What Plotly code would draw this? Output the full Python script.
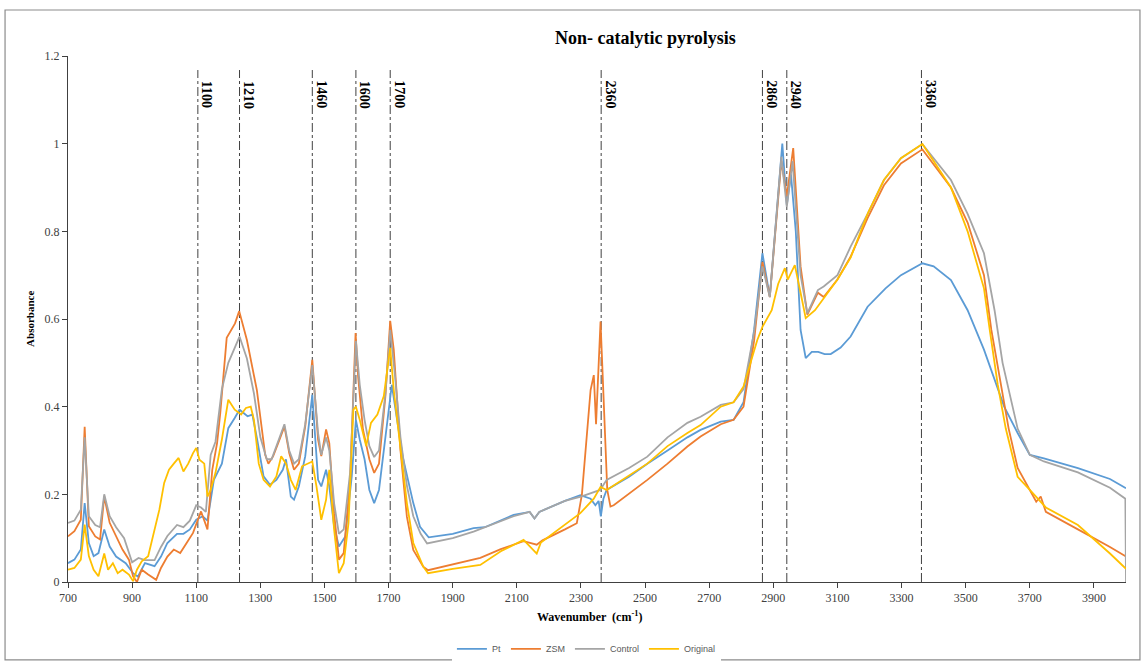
import plotly.graph_objects as go

# ---------------- data ----------------
pt_wn = [700,720,740,752,765,780,795,813,830,850,880,903,918,940,970,990,1010,1040,1060,1080,1100,1120,1135,1155,1180,1200,1220,1235,1260,1275,1290,1310,1330,1350,1370,1380,1395,1405,1420,1440,1462,1480,1490,1505,1515,1530,1545,1565,1585,1598,1610,1625,1640,1655,1670,1690,1710,1725,1744,1777,1798,1825,1900,1965,2000,2090,2140,2155,2170,2250,2298,2330,2345,2355,2362,2370,2380,2450,2507,2570,2632,2673,2736,2776,2807,2840,2866,2889,2928,2942,2955,2970,2985,3001,3020,3040,3060,3079,3110,3141,3194,3250,3298,3365,3400,3454,3506,3557,3600,3620,3662,3700,3744,3850,3950,4000]
pt_abs = [0.043,0.051,0.074,0.18,0.089,0.059,0.066,0.12,0.081,0.058,0.043,0.02,0.012,0.043,0.036,0.058,0.089,0.11,0.11,0.12,0.142,0.15,0.14,0.233,0.27,0.351,0.374,0.393,0.378,0.382,0.325,0.241,0.222,0.233,0.256,0.28,0.195,0.188,0.218,0.287,0.427,0.233,0.218,0.256,0.218,0.127,0.081,0.104,0.241,0.37,0.325,0.28,0.21,0.18,0.21,0.325,0.45,0.377,0.286,0.18,0.126,0.102,0.11,0.123,0.125,0.153,0.16,0.145,0.16,0.185,0.198,0.19,0.175,0.185,0.15,0.19,0.21,0.24,0.27,0.30,0.33,0.347,0.366,0.37,0.41,0.575,0.75,0.651,1.0,0.86,0.93,0.80,0.575,0.511,0.525,0.525,0.52,0.52,0.535,0.56,0.628,0.67,0.70,0.727,0.72,0.689,0.62,0.53,0.44,0.40,0.34,0.29,0.282,0.26,0.235,0.214]

zsm_wn = [700,720,740,752,765,785,800,813,830,850,870,890,903,915,930,950,975,990,1010,1030,1050,1070,1090,1105,1115,1135,1150,1165,1175,1195,1221,1234,1258,1289,1300,1315,1325,1340,1360,1375,1390,1405,1420,1440,1462,1480,1490,1505,1515,1530,1545,1560,1580,1597,1605,1620,1640,1655,1670,1690,1705,1716,1737,1757,1777,1808,1823,1900,1986,2050,2121,2162,2180,2250,2287,2303,2330,2340,2347,2361,2382,2392,2402,2507,2570,2632,2673,2736,2776,2807,2840,2866,2889,2925,2942,2962,2985,3006,3039,3057,3100,3141,3194,3245,3298,3365,3454,3506,3557,3580,3610,3634,3662,3700,3720,3734,3750,3850,3950,4000]
zsm_abs = [0.104,0.116,0.142,0.354,0.127,0.104,0.097,0.195,0.135,0.104,0.074,0.051,0.013,0.0,0.028,0.017,0.005,0.032,0.058,0.074,0.066,0.089,0.112,0.142,0.161,0.12,0.256,0.317,0.386,0.557,0.59,0.618,0.552,0.438,0.38,0.29,0.27,0.287,0.325,0.355,0.294,0.256,0.27,0.355,0.507,0.325,0.287,0.348,0.317,0.157,0.051,0.066,0.233,0.568,0.468,0.348,0.28,0.249,0.27,0.424,0.596,0.53,0.30,0.149,0.073,0.035,0.027,0.04,0.055,0.075,0.093,0.085,0.095,0.12,0.134,0.2,0.438,0.472,0.36,0.594,0.21,0.172,0.175,0.233,0.27,0.309,0.332,0.36,0.37,0.40,0.55,0.73,0.65,0.96,0.88,0.99,0.72,0.61,0.66,0.65,0.69,0.742,0.83,0.905,0.955,0.987,0.90,0.82,0.70,0.575,0.45,0.35,0.26,0.21,0.183,0.195,0.16,0.12,0.08,0.058]

ctl_wn = [700,720,740,752,765,785,800,813,830,850,875,900,920,940,970,990,1010,1040,1060,1080,1100,1115,1130,1145,1160,1180,1200,1235,1258,1280,1300,1320,1335,1360,1375,1390,1405,1420,1440,1462,1480,1490,1505,1515,1530,1545,1560,1580,1598,1610,1625,1640,1655,1670,1690,1705,1720,1737,1757,1777,1800,1820,1900,1965,2000,2090,2140,2155,2170,2250,2300,2340,2360,2380,2450,2507,2570,2632,2673,2736,2776,2807,2840,2866,2889,2925,2942,2960,2985,3006,3039,3057,3100,3141,3194,3245,3298,3365,3454,3506,3557,3590,3615,3640,3662,3700,3744,3850,3950,3998,4000]
ctl_abs = [0.135,0.14,0.165,0.33,0.15,0.13,0.125,0.20,0.15,0.125,0.10,0.045,0.055,0.05,0.05,0.08,0.105,0.13,0.125,0.14,0.175,0.17,0.16,0.29,0.32,0.44,0.50,0.56,0.51,0.43,0.33,0.28,0.28,0.33,0.36,0.30,0.27,0.28,0.36,0.495,0.34,0.29,0.33,0.30,0.18,0.11,0.12,0.25,0.55,0.45,0.37,0.31,0.285,0.30,0.43,0.575,0.47,0.33,0.22,0.15,0.11,0.088,0.10,0.115,0.125,0.15,0.16,0.145,0.16,0.185,0.195,0.205,0.21,0.233,0.26,0.286,0.33,0.363,0.377,0.404,0.41,0.44,0.57,0.72,0.65,0.97,0.856,0.96,0.70,0.613,0.666,0.674,0.70,0.765,0.84,0.917,0.967,0.999,0.917,0.84,0.75,0.62,0.50,0.42,0.35,0.29,0.275,0.25,0.215,0.19,0.0]

org_wn = [700,720,740,752,765,780,795,813,825,840,855,870,890,903,915,930,950,965,985,1000,1015,1030,1045,1060,1075,1090,1100,1110,1125,1135,1145,1160,1180,1200,1220,1240,1255,1270,1280,1295,1310,1330,1350,1365,1380,1395,1410,1430,1450,1462,1475,1490,1505,1515,1530,1545,1560,1575,1590,1598,1610,1630,1645,1665,1685,1705,1716,1737,1757,1777,1808,1823,1900,1986,2050,2121,2162,2175,2250,2298,2340,2361,2380,2402,2507,2570,2632,2673,2736,2776,2807,2850,2866,2895,2915,2936,2945,2967,2985,3001,3030,3060,3100,3141,3194,3245,3298,3365,3454,3506,3557,3575,3600,3625,3662,3700,3750,3850,3950,4000]
org_abs = [0.028,0.032,0.051,0.131,0.059,0.028,0.013,0.065,0.028,0.043,0.02,0.028,0.017,0.002,0.028,0.047,0.059,0.104,0.165,0.226,0.256,0.27,0.283,0.252,0.27,0.294,0.306,0.279,0.27,0.195,0.21,0.249,0.325,0.416,0.393,0.382,0.397,0.40,0.37,0.27,0.233,0.218,0.241,0.287,0.27,0.233,0.21,0.264,0.27,0.275,0.218,0.142,0.188,0.256,0.12,0.02,0.043,0.135,0.393,0.40,0.37,0.31,0.363,0.382,0.424,0.534,0.438,0.30,0.18,0.089,0.035,0.02,0.03,0.039,0.07,0.096,0.065,0.09,0.13,0.157,0.19,0.217,0.21,0.22,0.27,0.31,0.34,0.358,0.40,0.41,0.446,0.552,0.582,0.62,0.68,0.716,0.69,0.723,0.66,0.602,0.62,0.65,0.69,0.74,0.84,0.917,0.967,0.999,0.90,0.80,0.67,0.575,0.45,0.35,0.24,0.21,0.17,0.13,0.065,0.03]

series_names = ["Pt", "ZSM", "Control", "Original"]
series_colors = ["#5B9BD5", "#ED7D31", "#A5A5A5", "#FFC000"]

marker_pos = [1105, 1235, 1462, 1598, 1705, 2363, 2866, 2942, 3362]
marker_lbl = ["1100", "1210", "1460", "1600", "1700", "2360", "2860", "2940", "3360"]

x_ticks = list(range(700, 4000, 200))
y_ticks = [0, 0.2, 0.4, 0.6, 0.8, 1, 1.2]

# ---------------- figure ----------------
fig = go.Figure()
for wn, ab, nm, col in zip([pt_wn, zsm_wn, ctl_wn, org_wn],
                           [pt_abs, zsm_abs, ctl_abs, org_abs],
                           series_names, series_colors):
    fig.add_trace(go.Scatter(x=wn, y=ab, mode="lines", name=nm,
                             line=dict(color=col, width=1.8)))

serif = "Liberation Serif, Times New Roman, serif"
for pos, lbl in zip(marker_pos, marker_lbl):
    fig.add_shape(type="line", x0=pos, x1=pos, y0=0, y1=1.168, xref="x", yref="y",
                  line=dict(color="#404040", width=1, dash="dashdot"), layer="below")
    fig.add_annotation(x=pos, y=1.112, xref="x", yref="y", text="<b>" + lbl + "</b>",
                       showarrow=False, textangle=90, xanchor="center", yanchor="middle",
                       xshift=9, font=dict(family=serif, size=14, color="#000000"))

fig.add_annotation(x=0.546, y=1.034, xref="paper", yref="paper",
                   text="<b>Non- catalytic pyrolysis</b>", showarrow=False,
                   xanchor="center", yanchor="middle",
                   font=dict(family=serif, size=18, color="#000000"))
fig.add_annotation(x=-0.036, y=0.5, xref="paper", yref="paper",
                   text="<b>Absorbance</b>", showarrow=False, textangle=-90,
                   xanchor="center", yanchor="middle",
                   font=dict(family=serif, size=11, color="#000000"))
fig.add_annotation(x=0.493, y=-0.065, xref="paper", yref="paper",
                   text="<b>Wavenumber  (cm<sup>-1</sup>)</b>", showarrow=False,
                   xanchor="center", yanchor="middle",
                   font=dict(family=serif, size=12, color="#000000"))

# outer chart-area border
fig.add_shape(type="rect", xref="paper", yref="paper", x0=-0.0595, x1=1.0132,
              y0=-0.148, y1=1.0875, line=dict(color="#8c8c8c", width=1.2))

fig.update_layout(
    width=1143, height=662,
    margin=dict(l=68, r=17, t=56, b=80, autoexpand=False),
    paper_bgcolor="white", plot_bgcolor="white",
    showlegend=True,
    legend=dict(orientation="h", x=0.49, y=-0.127, xanchor="center", yanchor="middle",
                font=dict(family="Liberation Sans, Arial, sans-serif", size=9, color="#595959"),
                itemwidth=30, tracegroupgap=0),
    xaxis=dict(range=[700, 4000], tickmode="array", tickvals=x_ticks,
               ticktext=[str(v) for v in x_ticks],
               showgrid=False, zeroline=False, showline=True, linecolor="#404040",
               linewidth=1, ticks="outside", ticklen=5, tickcolor="#404040",
               tickfont=dict(family=serif, size=12, color="#404040")),
    yaxis=dict(range=[0, 1.2], tickmode="array", tickvals=y_ticks,
               ticktext=["0", "0.2", "0.4", "0.6", "0.8", "1", "1.2"],
               showgrid=False, zeroline=False, showline=True, linecolor="#404040",
               linewidth=1, ticks="outside", ticklen=5, tickcolor="#404040",
               tickfont=dict(family=serif, size=12, color="#404040")),
)

fig.write_html("out.html")
